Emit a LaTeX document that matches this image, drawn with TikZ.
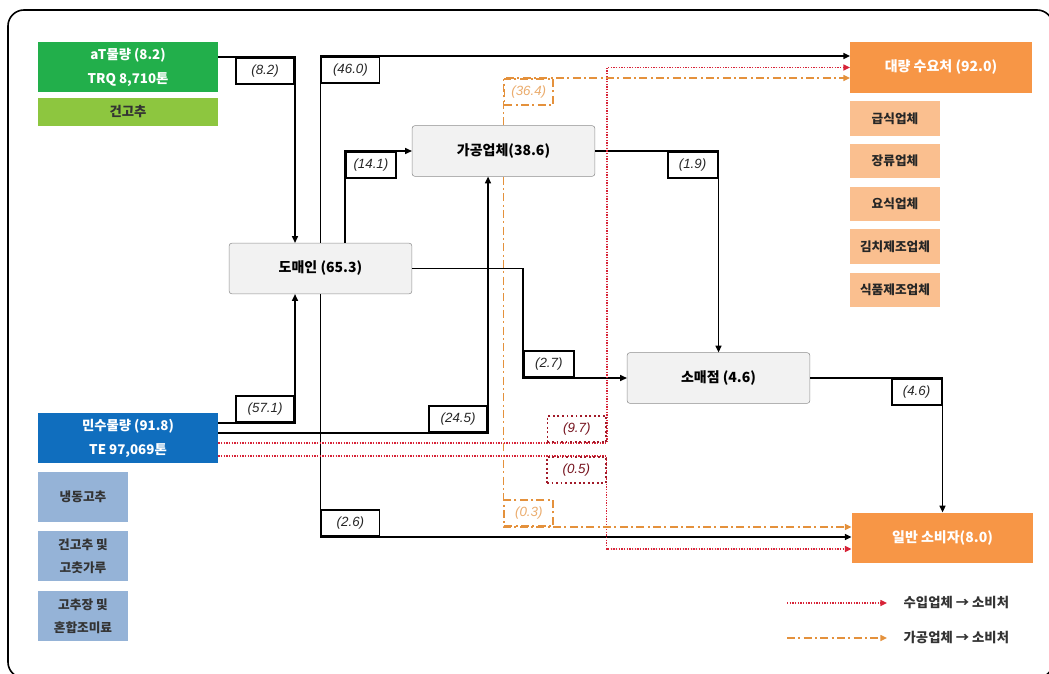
\documentclass[tikz,border=0pt]{standalone}
\usepackage{fontspec}
\setmainfont{Noto Sans CJK KR}
\newfontfamily\numfont{Liberation Sans}
\usepackage{tikz}
\usetikzlibrary{arrows.meta, calc}
\definecolor{agreen}{RGB}{34,175,75}
\definecolor{lgreen}{RGB}{141,198,63}
\definecolor{mblue}{RGB}{16,110,190}
\definecolor{lblue}{RGB}{149,179,215}
\definecolor{boxgray}{RGB}{242,242,242}
\definecolor{dorange}{RGB}{247,150,70}
\definecolor{lorange}{RGB}{250,191,143}
\definecolor{impred}{RGB}{215,35,55}
\definecolor{prcorange}{RGB}{228,145,60}

\begin{document}
\begin{tikzpicture}[x=0.75pt, y=-0.75pt,
  srcbox/.style={minimum width=135pt, minimum height=37.5pt, align=center, inner sep=0pt,
    text=white, font=\bfseries\fontsize{10}{18}\selectfont},
  itembox/.style={fill=lblue, minimum width=67.5pt, minimum height=37.5pt, align=center,
    inner sep=0pt, text=black!80, font=\bfseries\fontsize{9.5}{17}\selectfont},
  midbox/.style={draw=black!45, fill=boxgray, rounded corners=2pt, minimum width=137pt,
    minimum height=38pt, font=\bfseries\fontsize{10.5}{12}\selectfont},
  dstbox/.style={fill=dorange, minimum width=136pt, minimum height=38pt, text=white,
    font=\bfseries\fontsize{10.5}{12}\selectfont},
  subbox/.style={fill=lorange, minimum width=67.5pt, minimum height=26pt, text=black!85,
    font=\bfseries\fontsize{9.5}{11}\selectfont},
  numbox/.style={draw, solid, fill=white, line width=1.4pt, inner sep=0pt, minimum width=43.5pt,
    minimum height=19.5pt, text=black!85, font=\numfont\itshape\fontsize{10}{10}\selectfont},
  narrow/.style={minimum width=37.5pt},
  impbox/.style={numbox, draw=impred!75!black, dotted, minimum width=44pt, text=impred!55!black},
  prcbox/.style={numbox, draw=prcorange, dash pattern=on 6pt off 2.5pt on 1.5pt off 2.5pt,
    minimum width=36.5pt, text=prcorange!75!white},
  legtext/.style={font=\bfseries\fontsize{10}{12}\selectfont, text=black!80},
  flow/.style={-{Triangle[length=5pt, width=4.5pt]}, line width=1.1pt},
  impflow/.style={-{Triangle[length=5pt, width=4.5pt]}, line width=1pt, impred,
    dash pattern=on 1pt off 1pt},
  prcflow/.style={-{Triangle[length=5pt, width=4.5pt]}, line width=1pt, prcorange,
    dash pattern=on 6pt off 2.5pt on 1.5pt off 2.5pt}
]
\clip (0,0) rectangle (1049,674);
\draw[line width=1.2pt, rounded corners=12pt] (8,10) rectangle (1053,678);

\node[srcbox, fill=agreen] (at) at (128,67) {aT물량 (8.2)\\TRQ 8,710톤};
\node[srcbox, fill=lgreen, minimum height=21pt, text=black!80] (dry) at (128,112) {건고추};
\node[srcbox, fill=mblue] (civ) at (128,438) {민수물량 (91.8)\\TE 97,069톤};
\node[itembox] (frz) at (83,497) {냉동고추};
\node[itembox] (pwd) at (83,556) {건고추 및\\고춧가루};
\node[itembox] (sce) at (83,616) {고추장 및\\혼합조미료};

\node[midbox] (dome) at (320.5,268.5) {도매인 (65.3)};
\node[midbox] (proc) at (503.5,151) {가공업체(38.6)};
\node[midbox] (retail) at (718.5,378) {소매점 (4.6)};

\node[dstbox] (bulk) at (941,67.5) {대량 수요처 (92.0)};
\node[subbox] (meal) at (895,118.5) {급식업체};
\node[subbox] (paste) at (895,161) {장류업체};
\node[subbox] (rest) at (895,204) {요식업체};
\node[subbox] (kimchi) at (895,246.5) {김치제조업체};
\node[subbox] (food) at (895,290) {식품제조업체};
\node[dstbox] (cons) at (942.5,538) {일반 소비자(8.0)};

\draw[flow] ($(at.east)+(0,-10)$) -| node[pos=0.5, numbox, anchor=north east] {(8.2)} ($(dome.north)+(-25.5,0)$);
\draw[flow] (dome.north) |- node[pos=0.5, numbox, anchor=north west] {(46.0)} ($(bulk.west)+(0,-11.5)$);
\draw[flow] ($(dome.north)+(24.5,0)$) |- node[pos=0.5, numbox, narrow, anchor=north west] {(14.1)} (proc.west);
\draw[flow] (proc.east) -| node[pos=0.5, numbox, narrow, anchor=north east] {(1.9)} (retail.north);
\draw[flow] (dome.east) -| ($(retail.west)+(-104,0)$) -- node[pos=0, numbox, narrow, anchor=south west] {(2.7)} (retail.west);
\draw[flow] (retail.east) -| node[pos=0.5, numbox, narrow, anchor=north east] {(4.6)} (cons.north);
\draw[flow] ($(civ.east)+(0,-15)$) -| node[pos=0.5, numbox, anchor=south east] {(57.1)} ($(dome.south)+(-25.5,0)$);
\draw[flow] ($(civ.east)+(0,-5)$) -| node[pos=0.5, numbox, anchor=south east] {(24.5)} ($(proc.south)+(-15.5,0)$);
\draw[flow] (dome.south) |- node[pos=0.5, numbox, anchor=south west] {(2.6)} ($(cons.west)+(0,-1)$);

\draw[impflow] ($(civ.east)+(0,5)$) -| node[pos=0.5, impbox, anchor=south east] {(9.7)} ($(bulk.west)+(-243,0)$) -- (bulk.west);
\draw[impflow] ($(civ.east)+(0,18)$) -| node[pos=0.5, impbox, anchor=north east] {(0.5)} ($(cons.west)+(-245,11)$) -- ($(cons.west)+(0,11)$);

\draw[prcflow] (proc.north) |- node[pos=0.5, prcbox, anchor=north west] {(36.4)} ($(bulk.west)+(0,10.5)$);
\draw[prcflow] (proc.south) |- node[pos=0.5, prcbox, anchor=south west] {(0.3)} ($(cons.west)+(0,-11)$);

\coordinate (lgimp) at (787,603);
\node[legtext, anchor=west] (lgimpt) at (899,603) {수입업체 → 소비처};
\draw[impflow] (lgimp) -- ($(lgimpt.west)+(-12,0)$);
\coordinate (lgprc) at (787,638);
\node[legtext, anchor=west] (lgprct) at (899,638) {가공업체 → 소비처};
\draw[prcflow] (lgprc) -- ($(lgprct.west)+(-12,0)$);
\end{tikzpicture}
\end{document}
